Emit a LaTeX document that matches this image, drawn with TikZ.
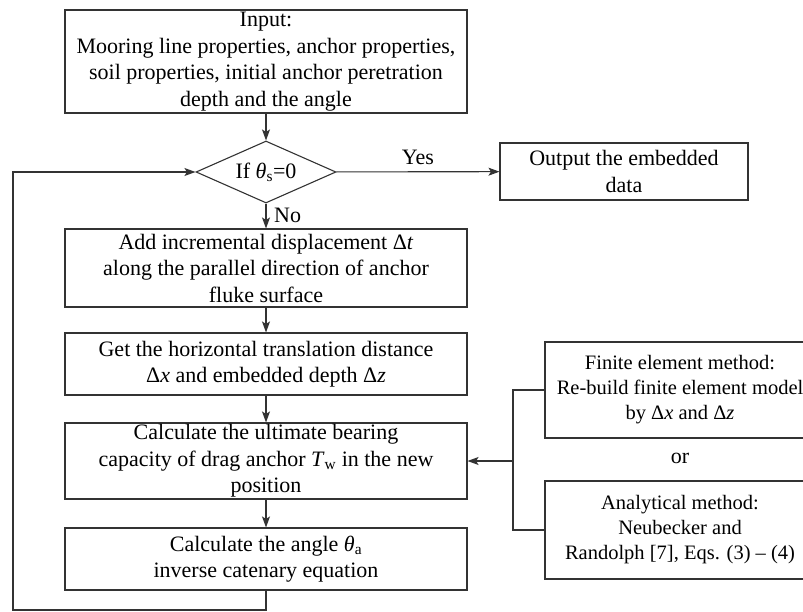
\documentclass[tikz,border=0pt]{standalone}
\usepackage{fontspec}
\setmainfont{Liberation Serif}
\usetikzlibrary{arrows.meta,shapes.geometric}
\tikzset{
  procbox/.style={draw=black!80, line width=1.1pt, align=center, inner sep=0pt, minimum width=402pt},
  sidebox/.style={draw=black!80, line width=1.1pt, align=center, inner sep=0pt, minimum width=270pt, font=\fontsize{20.5}{25}\selectfont},
  decbox/.style={draw=black!80, line width=1.1pt, diamond, aspect=2.25, inner sep=0pt, minimum width=140pt, minimum height=62pt},
  flow/.style={draw=black!80, line width=1.1pt, -{Stealth[length=11pt,width=8pt,inset=2.5pt]}},
  link/.style={draw=black!80, line width=1.1pt},
}

\begin{document}
\begin{tikzpicture}[x=1pt, y=-1pt, font=\fontsize{22}{26.5}\selectfont]
		%%%%% START %%%%%
		\useasboundingbox (0,0) rectangle (803,612);
		\clip (0,0) rectangle (803,612);
		\fill[white] (0,0) rectangle (803,612);
		
		\node[procbox, minimum height=103pt] (input) at (266, 61.5) {Input:\\Mooring line properties, anchor properties,\\soil properties, initial anchor peretration\\depth and the angle};
		\node[decbox] (check) at (266, 172) {If \textit{θ}\textsubscript{s}=0};
		\node[draw=black!80, line width=1.1pt, align=center, inner sep=0pt, minimum width=248pt, minimum height=57pt] (output) at (624, 171.5) {Output the embedded\\data};
		
		\node[procbox, minimum height=78pt] (step1) at (266, 268) {Add incremental displacement Δ\textit{t}\\along the parallel direction of anchor\\fluke surface};
		\node[procbox, minimum height=62pt] (step2) at (266, 364) {Get the horizontal translation distance\\Δ\textit{x} and embedded depth Δ\textit{z}};
		\node[procbox, minimum height=76pt] (step3) at (266, 461) {Calculate the ultimate bearing\\capacity of drag anchor \textit{T}\textsubscript{w} in the new\\position};
		\node[procbox, minimum height=62pt] (step4) at (266, 559) {Calculate the angle \textit{θ}\textsubscript{a}\\inverse catenary equation};
		
		\node[sidebox, minimum height=96pt] (fem) at (680, 390) {Finite element method:\\Re-build finite element model\\by Δ\textit{x} and Δ\textit{z}};
		\node (or) at (680, 458) {or};
		\node[sidebox, minimum height=98pt] (ana) at (680, 530) {Analytical method:\\Neubecker and\\Randolph [7], Eqs. (3) – (4)};
		
		\coordinate (loop) at (13, 610);
		\coordinate (join) at (513, 461);
		
		\draw[flow] (input) -- (check);
		\draw[flow] (check) -- node[above, yshift=3pt] (yes) {Yes} (output);
		\draw[flow] (check) -- (step1);
		\node[anchor=west, inner sep=0pt] (no) at (274, 215) {No};
		\draw[flow] (step1) -- (step2);
		\draw[flow] (step2) -- (step3);
		\draw[flow] (step3) -- (step4);
		
		\draw[flow] (step4.south) |- (loop) |- (check.west);
		
		\draw[link] (fem.west) -| (join);
		\draw[link] (ana.west) -| (join);
		\draw[flow] (join) -- (step3.east);
		
		%%%%% END %%%%%
\end{tikzpicture}
\end{document}
